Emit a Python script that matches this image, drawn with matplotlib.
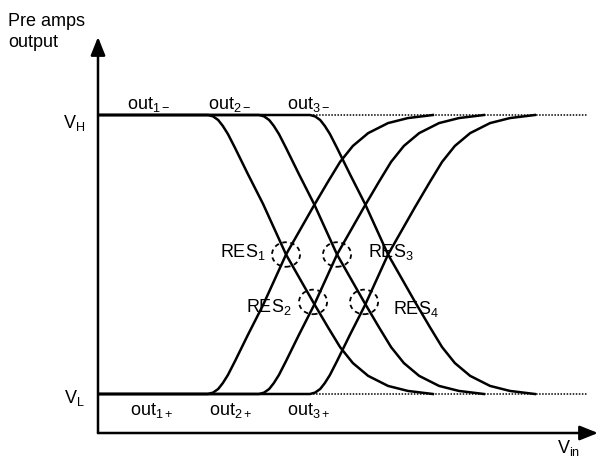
import matplotlib
matplotlib.use("Agg")
import matplotlib.pyplot as plt
from matplotlib.patches import Ellipse
import numpy as np

plt.rcParams["font.family"] = ["Liberation Sans", "DejaVu Sans"]
plt.rcParams["mathtext.fontset"] = "custom"
plt.rcParams["mathtext.rm"] = "Liberation Sans"
plt.rcParams["mathtext.it"] = "Liberation Sans:italic"
plt.rcParams["mathtext.bf"] = "Liberation Sans:bold"

# Preamp output levels (normalised): V_L = 0, V_H = 1
V_LOW = 0.0
V_HIGH = 1.0

# Input offsets at which each preamp starts to switch (Vin units)
stage_starts = [0.0, 1.0, 2.0]

# Switching characteristic of one falling output, offset from its start
shape_dvin = [0.0, 0.10, 0.20, 0.29, 0.39, 0.53, 0.78, 1.08, 1.53, 2.06,
              2.35, 2.59, 2.84, 3.14, 3.53, 3.92, 4.41]
shape_level = [1.0, 0.995, 0.982, 0.961, 0.932, 0.882, 0.789, 0.681, 0.50,
               0.330, 0.240, 0.168, 0.111, 0.065, 0.029, 0.011, 0.0]

# Zero-crossing points that set the resolution
res_names = ["RES$_{1}$", "RES$_{2}$", "RES$_{3}$", "RES$_{4}$"]
res_vin = [1.53, 2.06, 2.53, 3.06]
res_level = [0.50, 0.33, 0.50, 0.33]

top_labels = ["out$_{\\mathrm{1-}}$", "out$_{\\mathrm{2-}}$", "out$_{\\mathrm{3-}}$"]
bottom_labels = ["out$_{\\mathrm{1+}}$", "out$_{\\mathrm{2+}}$", "out$_{\\mathrm{3+}}$"]
top_label_vin = [-1.16, 0.43, 1.98]
bottom_label_vin = [-1.10, 0.45, 1.98]

W, H = 600, 467
fig = plt.figure(figsize=(W / 100, H / 100), dpi=100)
ax = fig.add_axes([98 / W, (H - 433) / H, 500 / W, (433 - 37) / H])

x_left, x_right = -110 / 51, 390 / 51
ax.set_xlim(x_left, x_right)
ax.set_ylim(-39 / 279, 357 / 279)
ax.axis("off")

# axes with arrow heads
arrow = dict(arrowstyle="-|>,head_length=0.55,head_width=0.22", color="black",
             lw=1.8, mutation_scale=20, shrinkA=0, shrinkB=0)
ax.annotate("", xy=(0, 1), xytext=(0, 0), xycoords="axes fraction",
            arrowprops=arrow)
ax.annotate("", xy=(1, 0), xytext=(0, 0), xycoords="axes fraction",
            arrowprops=arrow)

# dotted reference levels
dot_from, dot_to = 2.06, 7.43
for lvl in (V_HIGH, V_LOW):
    ax.plot([dot_from, dot_to], [lvl, lvl], color="black", lw=1.1,
            ls=(0, (1, 1)), solid_capstyle="butt")

dv = np.array(shape_dvin)
lv = np.array(shape_level)
for s in stage_starts:
    xs = np.concatenate([[x_left], s + dv])
    fall = np.concatenate([[V_HIGH], V_LOW + (V_HIGH - V_LOW) * lv])
    rise = np.concatenate([[V_LOW], V_HIGH - (V_HIGH - V_LOW) * lv])
    ax.plot(xs, fall, color="black", lw=1.8, solid_joinstyle="round")
    ax.plot(xs, rise, color="black", lw=1.8, solid_joinstyle="round")

# dashed circles around the crossing points
for xv, yv in zip(res_vin, res_level):
    ax.add_patch(Ellipse((xv, yv), width=0.55, height=0.088, fill=False,
                         ec="black", lw=1.3, ls=(0, (2.5, 2))))

fs = 13
ax.text(1.12, 0.491, res_names[0], ha="right", va="baseline", fontsize=fs)
ax.text(1.63, 0.294, res_names[1], ha="right", va="baseline", fontsize=fs)
ax.text(3.14, 0.491, res_names[2], ha="left", va="baseline", fontsize=fs)
ax.text(3.63, 0.287, res_names[3], ha="left", va="baseline", fontsize=fs)

for lab, xv in zip(top_labels, top_label_vin):
    ax.text(xv, 1.022, lab, ha="center", va="baseline", fontsize=fs)
for lab, xv in zip(bottom_labels, bottom_label_vin):
    ax.text(xv, -0.075, lab, ha="center", va="baseline", fontsize=fs)

ax.text(-2.41, 0.953, "V$_{\\mathrm{H}}$", ha="right", va="baseline",
        fontsize=fs, clip_on=False)
ax.text(-2.41, -0.032, "V$_{\\mathrm{L}}$", ha="right", va="baseline",
        fontsize=fs, clip_on=False)
ax.text(6.84, -0.211, "V$_{\\mathrm{in}}$", ha="left", va="baseline",
        fontsize=fs, clip_on=False)

fig.text(8 / W, 1 - 26 / H, "Pre amps", ha="left", va="baseline", fontsize=fs)
fig.text(8 / W, 1 - 47 / H, "output", ha="left", va="baseline", fontsize=fs)

fig.savefig("out.png", dpi=100, facecolor="white")
